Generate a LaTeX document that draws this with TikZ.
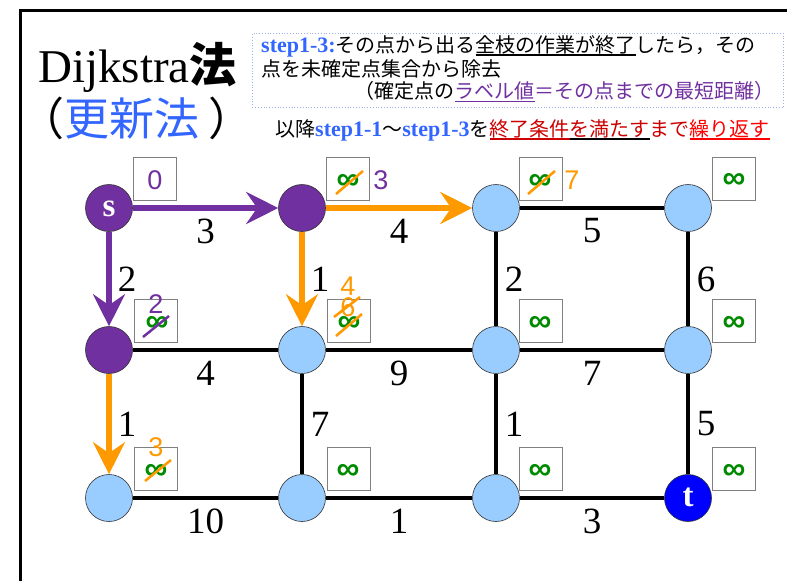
\documentclass[tikz,border=0pt]{standalone}
\usepackage{fontspec}
\setmainfont{Liberation Serif}
\newfontfamily\jp{Noto Sans CJK JP}
\newfontfamily\jpp{Noto Sans CJK JP}[RawFeature=+palt]
\newfontfamily\sfx{Liberation Sans}
\usetikzlibrary{arrows.meta}
\definecolor{pur}{HTML}{7030A0}
\definecolor{ora}{HTML}{FF9900}
\definecolor{lb}{HTML}{99CCFF}
\definecolor{tb}{HTML}{0000FF}
\definecolor{grn}{HTML}{008A00}
\definecolor{stb}{HTML}{3366FF}
\definecolor{drd}{HTML}{CC0000}
\definecolor{brd}{HTML}{FF0000}
\definecolor{boxb}{HTML}{9DB0F0}
\newcommand\ulx[2]{\leavevmode\setbox0\hbox{#2}\rlap{\color{#1}\rule[-3.5pt]{\wd0}{1.6pt}}\box0}
\newcommand\stp[1]{{\rmfamily\bfseries\fontsize{22}{24}\selectfont\color{stb}#1}}
\tikzset{
  vert/.style={circle, draw=black!80, line width=0.6pt, minimum size=47pt, inner sep=0pt, fill=lb},
  vlet/.style={font=\rmfamily\bfseries\fontsize{33}{33}\selectfont, text=white},
  edgeb/.style={line width=4.5pt, black},
  parr/.style={line width=6pt, pur, -{Stealth[length=32pt,width=32pt,inset=11pt]}},
  oarr/.style={line width=6pt, ora, -{Stealth[length=32pt,width=32pt,inset=11pt]}},
  lbox/.style={draw=gray, line width=0.8pt, fill=white, minimum width=43pt, minimum height=43pt, inner sep=0pt},
  wt/.style={font=\rmfamily\fontsize{37}{37}\selectfont, inner sep=0pt, text=black},
  wth/.style={wt, yshift=-23pt},
  wtv/.style={wt, xshift=18pt},
  inf/.style={text=grn, font=\sfx\bfseries\fontsize{32}{32}\selectfont, inner sep=0pt},
  num/.style={font=\sfx\fontsize{27}{27}\selectfont, inner sep=0pt},
  slash/.style={line width=2.5pt},
  jtxt/.style={inner sep=0pt, font=\jp\fontsize{20}{24}\selectfont},
}
\begin{document}
\begin{tikzpicture}[x=1pt,y=-1pt]
\useasboundingbox (0,0) rectangle (787,581);
\fill[white] (0,0) rectangle (787,581);
% frame
\draw[line width=3pt] (787,10) -- (20,10) -- (20,581);
% title
\node[anchor=base west, inner sep=0pt] (title1) at (38,82) {\rmfamily\fontsize{47}{47}\selectfont Dijkstra{\jp\bfseries 法}};
\node[anchor=base west, inner sep=0pt] (title2) at (40,135) {\jpp\fontsize{45}{45}\selectfont （\kern2pt\textcolor{stb}{更新法}\kern10pt）};
% text box
\node[draw=boxb, dotted, line width=0.8pt, minimum width=531pt, minimum height=74pt, anchor=north west, inner sep=0pt] (tbox) at (252,33) {};
\node[jtxt, anchor=west] (l1) at (261,46) {\stp{step1-3:}その点から出る\ulx{black}{全枝の作業が終了}したら，その};
\node[jtxt, anchor=west] (l2) at (261,69) {点を未確定点集合から除去};
\node[jtxt, anchor=east] (l3) at (775,92) {（確定点の\ulx{pur}{\color{pur}ラベル値}＝その点までの{\color{pur}最短距離}）};
\node[jtxt, anchor=west] (l4) at (275,130) {以降\stp{step1-1}～\stp{step1-3}を\ulx{drd}{\color{drd}終了条件}\ulx{black}{を満たす}まで\ulx{brd}{\color{brd}繰り返す}};
% vertices
\node[vert, fill=pur] (v11) at (109,208) {};
\node[vlet] (ls) at (109,209) {s};
\node[vert, fill=pur] (v12) at (302,208) {};
\node[vert] (v13) at (496,208) {};
\node[vert] (v14) at (688,208) {};
\node[vert, fill=pur] (v21) at (109,350) {};
\node[vert] (v22) at (302,350) {};
\node[vert] (v23) at (496,350) {};
\node[vert] (v24) at (688,350) {};
\node[vert] (v31) at (109,498) {};
\node[vert] (v32) at (302,498) {};
\node[vert] (v33) at (496,498) {};
\node[vert, fill=tb] (v34) at (688,498) {};
\node[vlet] (lt) at (688,497) {t};
% edges
\draw[parr] (v11) -- node[wth]{3} (v12);
\draw[oarr] (v12) -- node[wth]{4} (v13);
\draw[edgeb] (v13) -- node[wth]{5} (v14);
\draw[edgeb] (v21) -- node[wth]{4} (v22);
\draw[edgeb] (v22) -- node[wth]{9} (v23);
\draw[edgeb] (v23) -- node[wth]{7} (v24);
\draw[edgeb] (v31) -- node[wth]{10} (v32);
\draw[edgeb] (v32) -- node[wth]{1} (v33);
\draw[edgeb] (v33) -- node[wth]{3} (v34);
\draw[parr] (v11) -- node[wtv]{2} (v21);
\draw[oarr] (v21) -- node[wtv]{1} (v31);
\draw[oarr] (v12) -- node[wtv]{1} (v22);
\draw[edgeb] (v22) -- node[wtv]{7} (v32);
\draw[edgeb] (v13) -- node[wtv]{2} (v23);
\draw[edgeb] (v23) -- node[wtv]{1} (v33);
\draw[edgeb] (v14) -- node[wtv]{6} (v24);
\draw[edgeb] (v24) -- node[wtv]{5} (v34);
% label boxes
\node[lbox] (b11) at (155,178.5) {};
\node[lbox] (b12) at (348,178.5) {};
\node[lbox] (b13) at (540.5,178.5) {};
\node[lbox] (b14) at (734,178.5) {};
\node[lbox] (b21) at (156,321) {};
\node[lbox] (b22) at (349,321) {};
\node[lbox] (b23) at (540.5,321) {};
\node[lbox] (b24) at (734,321) {};
\node[lbox] (b31) at (155.5,469) {};
\node[lbox] (b32) at (348.5,469) {};
\node[lbox] (b33) at (540.5,469) {};
\node[lbox] (b34) at (734,469) {};
% box contents
\node[num, text=pur] (z11) at (155,180) {0};
\node[inf] (i12) at (348,182) {∞};
\draw[ora, slash] (336,194) -- (363,171);
\node[num, text=pur] (n12) at (381,180) {3};
\node[inf] (i13) at (540,182) {∞};
\draw[ora, slash] (528,194) -- (555,171);
\node[num, text=ora] (n13) at (572,180) {7};
\node[inf] (i14) at (734,181) {∞};
\node[num, text=pur] (n21) at (156,304) {2};
\node[inf] (i21) at (157,324) {∞};
\draw[pur, slash] (143,337) -- (169,316);
\node[num, text=ora] (n22a) at (348,286) {4};
\node[num, text=ora] (n22b) at (348,307) {6};
\draw[ora, slash] (334,317) -- (360,297);
\node[inf] (i22) at (349,324) {∞};
\draw[ora, slash] (336,336) -- (362,314);
\node[inf] (i23) at (540,324) {∞};
\node[inf] (i24) at (734,324) {∞};
\node[num, text=ora] (n31) at (156,447) {3};
\node[inf] (i31) at (156,472) {∞};
\draw[ora, slash] (145,481) -- (171,460);
\node[inf] (i32) at (348,472) {∞};
\node[inf] (i33) at (540,472) {∞};
\node[inf] (i34) at (734,472) {∞};
\end{tikzpicture}
\end{document}
